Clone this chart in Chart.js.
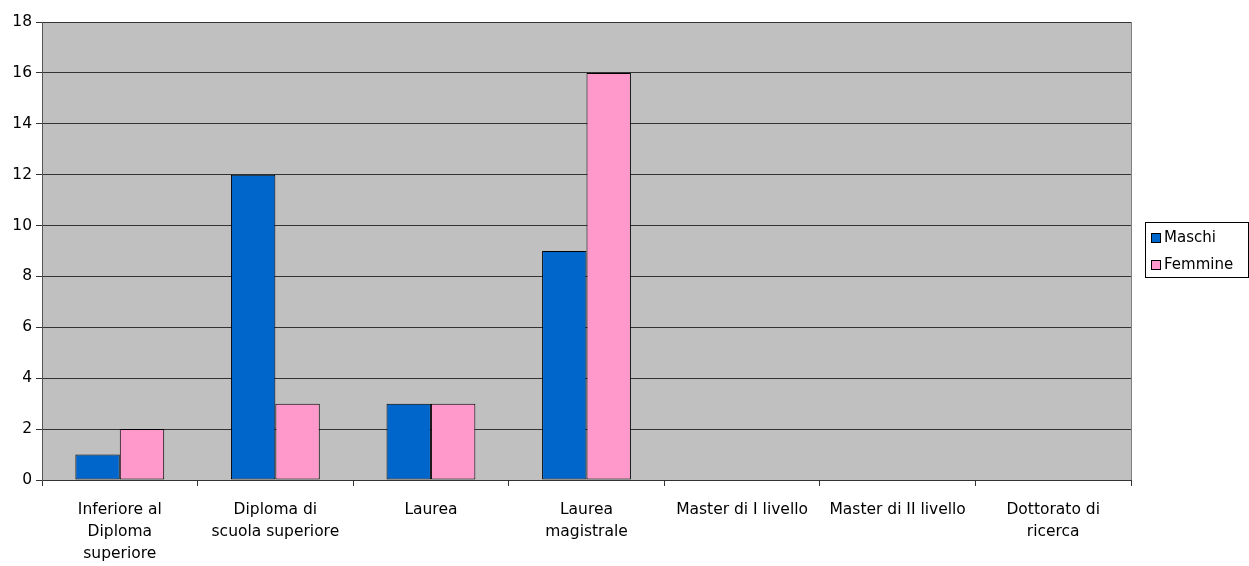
<!DOCTYPE html>
<html>
<head>
<meta charset="utf-8">
<script src="https://cdn.jsdelivr.net/npm/chart.js@4/dist/chart.umd.min.js"></script>
<style>
html,body{margin:0;padding:0;background:#fff;}
#wrap{width:1249px;height:566px;}
</style>
</head>
<body>
<div id="wrap"><canvas id="c" width="1249" height="566"></canvas></div>
<script>
const categories = [
  ["Inferiore al","Diploma","superiore"],
  ["Diploma di","scuola superiore"],
  "Laurea",
  ["Laurea","magistrale"],
  "Master di I livello",
  "Master di II livello",
  ["Dottorato di","ricerca"]
];
const maschi = [1, 12, 3, 9, 0, 0, 0];
const femmine = [2, 3, 3, 16, 0, 0, 0];
const seriesNames = ["Maschi", "Femmine"];
const seriesColors = ["#0066CC", "#FF99CC"];
const yMax = 18, yStep = 2;

const FONT = "'DejaVu Sans', sans-serif";

const plotBg = {
  id: 'plotBg',
  beforeDraw(chart) {
    const {ctx, chartArea: a} = chart;
    ctx.save();
    ctx.fillStyle = '#C0C0C0';
    ctx.fillRect(a.left, a.top, a.right - a.left, a.bottom - a.top);
    ctx.restore();
  },
  afterDraw(chart) {
    const {ctx, chartArea: a} = chart;
    ctx.save();
    ctx.strokeStyle = '#808080';
    ctx.lineWidth = 1;
    ctx.beginPath();
    ctx.moveTo(a.right + 0.5, a.top);
    ctx.lineTo(a.right + 0.5, a.bottom);
    ctx.stroke();
    // legend
    const lx = 1145.5, ly = 222.5, lw = 103, lh = 55;
    ctx.strokeStyle = '#000';
    ctx.strokeRect(lx, ly, lw, lh);
    ctx.font = '15px ' + FONT;
    ctx.textBaseline = 'middle';
    ctx.textAlign = 'left';
    chart.data.datasets.forEach((ds, i) => {
      const cy = 238 + i * 27;
      ctx.fillStyle = ds.backgroundColor;
      ctx.fillRect(1151.5, cy - 4.5, 9, 9);
      ctx.strokeStyle = '#000';
      ctx.strokeRect(1151.5, cy - 4.5, 9, 9);
      ctx.fillStyle = '#000';
      ctx.fillText(ds.label, 1164, cy);
    });
    ctx.restore();
  }
};

new Chart(document.getElementById('c'), {
  type: 'bar',
  data: {
    labels: categories,
    datasets: [
      {label: seriesNames[0], data: maschi, backgroundColor: seriesColors[0], borderColor: '#000', borderWidth: 1, borderSkipped: false},
      {label: seriesNames[1], data: femmine, backgroundColor: seriesColors[1], borderColor: '#000', borderWidth: 1, borderSkipped: false}
    ]
  },
  options: {
    responsive: false,
    animation: false,
    layout: {padding: {left: 0, top: 22, right: 118, bottom: 0}},
    plugins: {legend: {display: false}, tooltip: {enabled: false}},
    datasets: {bar: {categoryPercentage: 0.571, barPercentage: 1}},
    scales: {
      x: {
        afterFit(s) { s.height = 86; },
        grid: {offset: true, drawOnChartArea: false, drawTicks: true, tickLength: 6, color: '#333'},
        border: {color: '#333', width: 1},
        ticks: {color: '#000', font: {family: FONT, size: 15.5, lineHeight: 1.42}, padding: 13, maxRotation: 0, autoSkip: false}
      },
      y: {
        min: 0, max: yMax,
        afterFit(s) { s.width = 42; },
        grid: {color: '#333', lineWidth: 1, tickLength: 6, drawTicks: true},
        border: {color: '#555', width: 1},
        ticks: {stepSize: yStep, color: '#000', font: {family: FONT, size: 15.5}, padding: 4}
      }
    }
  },
  plugins: [plotBg]
});
</script>
</body>
</html>
